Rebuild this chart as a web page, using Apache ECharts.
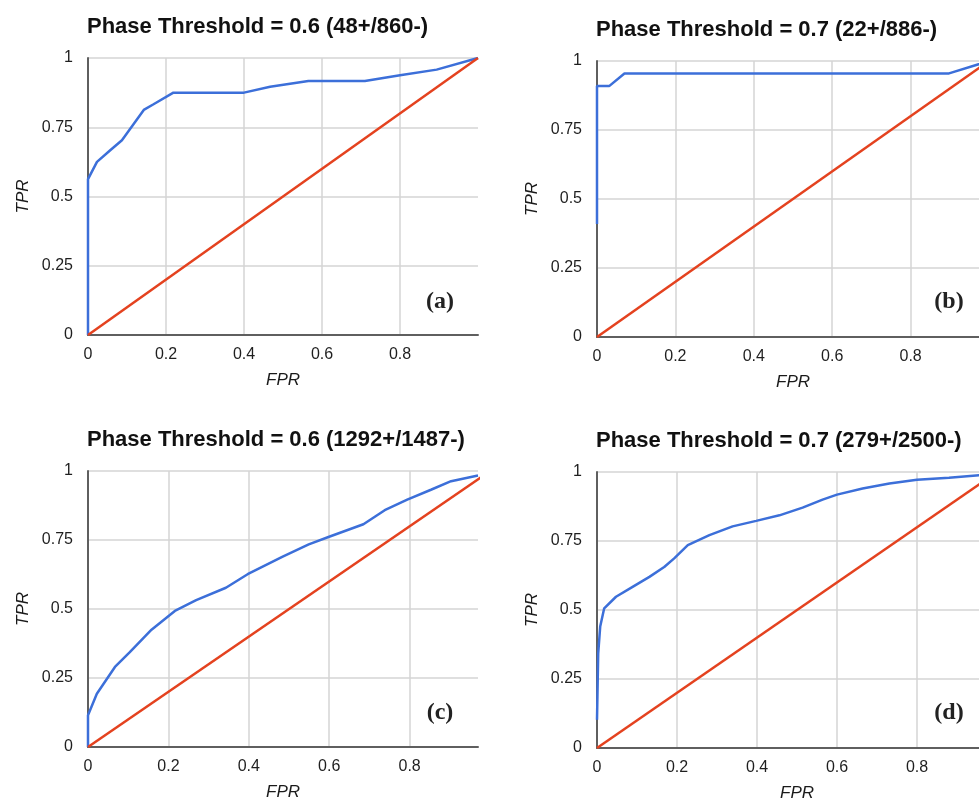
<!DOCTYPE html>
<html>
<head>
<meta charset="utf-8">
<script src="https://cdn.jsdelivr.net/npm/echarts@6/dist/echarts.min.js"></script>
<style>
  html, body { margin: 0; background: #fff; }
  #main { width: 979px; height: 803px; }
</style>
</head>
<body>
<div id="main"></div>
<script>
// panel (a)
const titleA = "Phase Threshold = 0.6 (48+/860-)";
const fprA = [0, 0, 0.023, 0.057, 0.087, 0.143, 0.168, 0.219, 0.40, 0.467, 0.565, 0.71, 0.80, 0.894, 1];
const tprA = [0, 0.5625, 0.625, 0.667, 0.703, 0.8125, 0.833, 0.875, 0.875, 0.896, 0.917, 0.917, 0.9375, 0.958, 1];
// panel (b)
const titleB = "Phase Threshold = 0.7 (22+/886-)";
const fprB = [0, 0, 0.031, 0.07, 0.898, 1];
const tprB = [0.409, 0.909, 0.909, 0.955, 0.955, 1];
// panel (c)
const titleC = "Phase Threshold = 0.6 (1292+/1487-)";
const fprC = [0, 0, 0.022, 0.067, 0.104, 0.158, 0.216, 0.269, 0.343, 0.397, 0.483, 0.549, 0.598, 0.685, 0.738, 0.794, 0.853, 0.903, 0.97];
const tprC = [0, 0.115, 0.193, 0.29, 0.344, 0.425, 0.493, 0.532, 0.577, 0.626, 0.689, 0.734, 0.761, 0.807, 0.858, 0.896, 0.932, 0.963, 0.984];
// panel (d)
const titleD = "Phase Threshold = 0.7 (279+/2500-)";
const fprD = [0, 0.003, 0.008, 0.018, 0.0475, 0.089, 0.131, 0.168, 0.193, 0.227, 0.281, 0.339, 0.398, 0.456, 0.514, 0.564, 0.60, 0.664, 0.731, 0.80, 0.88, 0.956, 1];
const tprD = [0.102, 0.343, 0.44, 0.506, 0.548, 0.584, 0.62, 0.656, 0.687, 0.735, 0.771, 0.803, 0.823, 0.843, 0.871, 0.90, 0.918, 0.94, 0.958, 0.972, 0.979, 0.988, 1];
// chance diagonal
const diagX = [0, 1];
const diagY = [0, 1];

const yTicks = [0, 0.25, 0.5, 0.75, 1];

const panels = [
  { title: titleA, fpr: fprA, tpr: tprA, xMax: 1, tag: "(a)", tagPos: [440, 302], grid: { left: 88, top: 58, width: 390, height: 277 } },
  { title: titleB, fpr: fprB, tpr: tprB, xMax: 1, tag: "(b)", tagPos: [949, 302], grid: { left: 597, top: 61, width: 392, height: 276 } },
  { title: titleC, fpr: fprC, tpr: tprC, xMax: 0.97, tag: "(c)", tagPos: [440, 713], grid: { left: 88, top: 471, width: 390, height: 276 } },
  { title: titleD, fpr: fprD, tpr: tprD, xMax: 1, tag: "(d)", tagPos: [949, 713], grid: { left: 597, top: 472, width: 400, height: 276 } }
];

const BLUE = "#3c6fd9";
const RED = "#e4421f";
const sans = "Liberation Sans, Arial, sans-serif";

const option = {
  animation: false,
  backgroundColor: "#fff",
  title: [],
  grid: [],
  xAxis: [],
  yAxis: [],
  series: [],
  graphic: []
};

panels.forEach((p, i) => {
  option.title.push({
    text: p.title,
    left: p.grid.left - 6,
    top: p.grid.top - 47,
    textStyle: { fontFamily: sans, fontSize: 22, fontWeight: "bold", color: "#111" }
  });
  option.grid.push(Object.assign({ outerBoundsMode: "none", containLabel: false }, p.grid));
  option.xAxis.push({
    type: "value", gridIndex: i, min: 0, max: p.xMax, interval: 0.2,
    name: "FPR", nameLocation: "middle", nameGap: 37,
    nameTextStyle: { fontFamily: sans, fontSize: 17, fontStyle: "italic", color: "#1a1a1a" },
    axisLine: { show: true, lineStyle: { color: "#5f5f5f", width: 2 } },
    axisTick: { show: false },
    axisLabel: { fontFamily: sans, fontSize: 16, color: "#1f1f1f", margin: 12, showMaxLabel: false },
    splitLine: { show: true, showMaxLine: false, lineStyle: { color: "#d4d4d4", width: 1.5 } }
  });
  option.yAxis.push({
    type: "value", gridIndex: i, min: 0, max: 1, interval: 0.25,
    name: "TPR", nameLocation: "middle", nameGap: 56,
    nameTextStyle: { fontFamily: sans, fontSize: 17, fontStyle: "italic", color: "#1a1a1a" },
    axisLine: { show: true, lineStyle: { color: "#5f5f5f", width: 2 } },
    axisTick: { show: false },
    axisLabel: { fontFamily: sans, fontSize: 16, color: "#1f1f1f", margin: 15,
      formatter: v => String(yTicks.find(t => Math.abs(t - v) < 1e-6) ?? v) },
    splitLine: { show: true, lineStyle: { color: "#d4d4d4", width: 1.5 } }
  });
  option.series.push({
    type: "line", xAxisIndex: i, yAxisIndex: i, showSymbol: false, symbol: "none",
    data: p.fpr.map((x, k) => [x, p.tpr[k]]),
    lineStyle: { color: BLUE, width: 2.5 }, z: 3
  });
  option.series.push({
    type: "line", xAxisIndex: i, yAxisIndex: i, showSymbol: false, symbol: "none",
    data: diagX.map((x, k) => [x, diagY[k]]),
    lineStyle: { color: RED, width: 2.5 }, z: 4
  });
  option.graphic.push({
    type: "text", x: p.tagPos[0], y: p.tagPos[1],
    style: { text: p.tag, fontFamily: "Liberation Serif, Times New Roman, serif", fontSize: 24, fontWeight: "bold",
      fill: "#222", align: "center", verticalAlign: "middle" }
  });
});

const myChart = echarts.init(document.getElementById("main"));
myChart.setOption(option);
</script>
</body>
</html>
